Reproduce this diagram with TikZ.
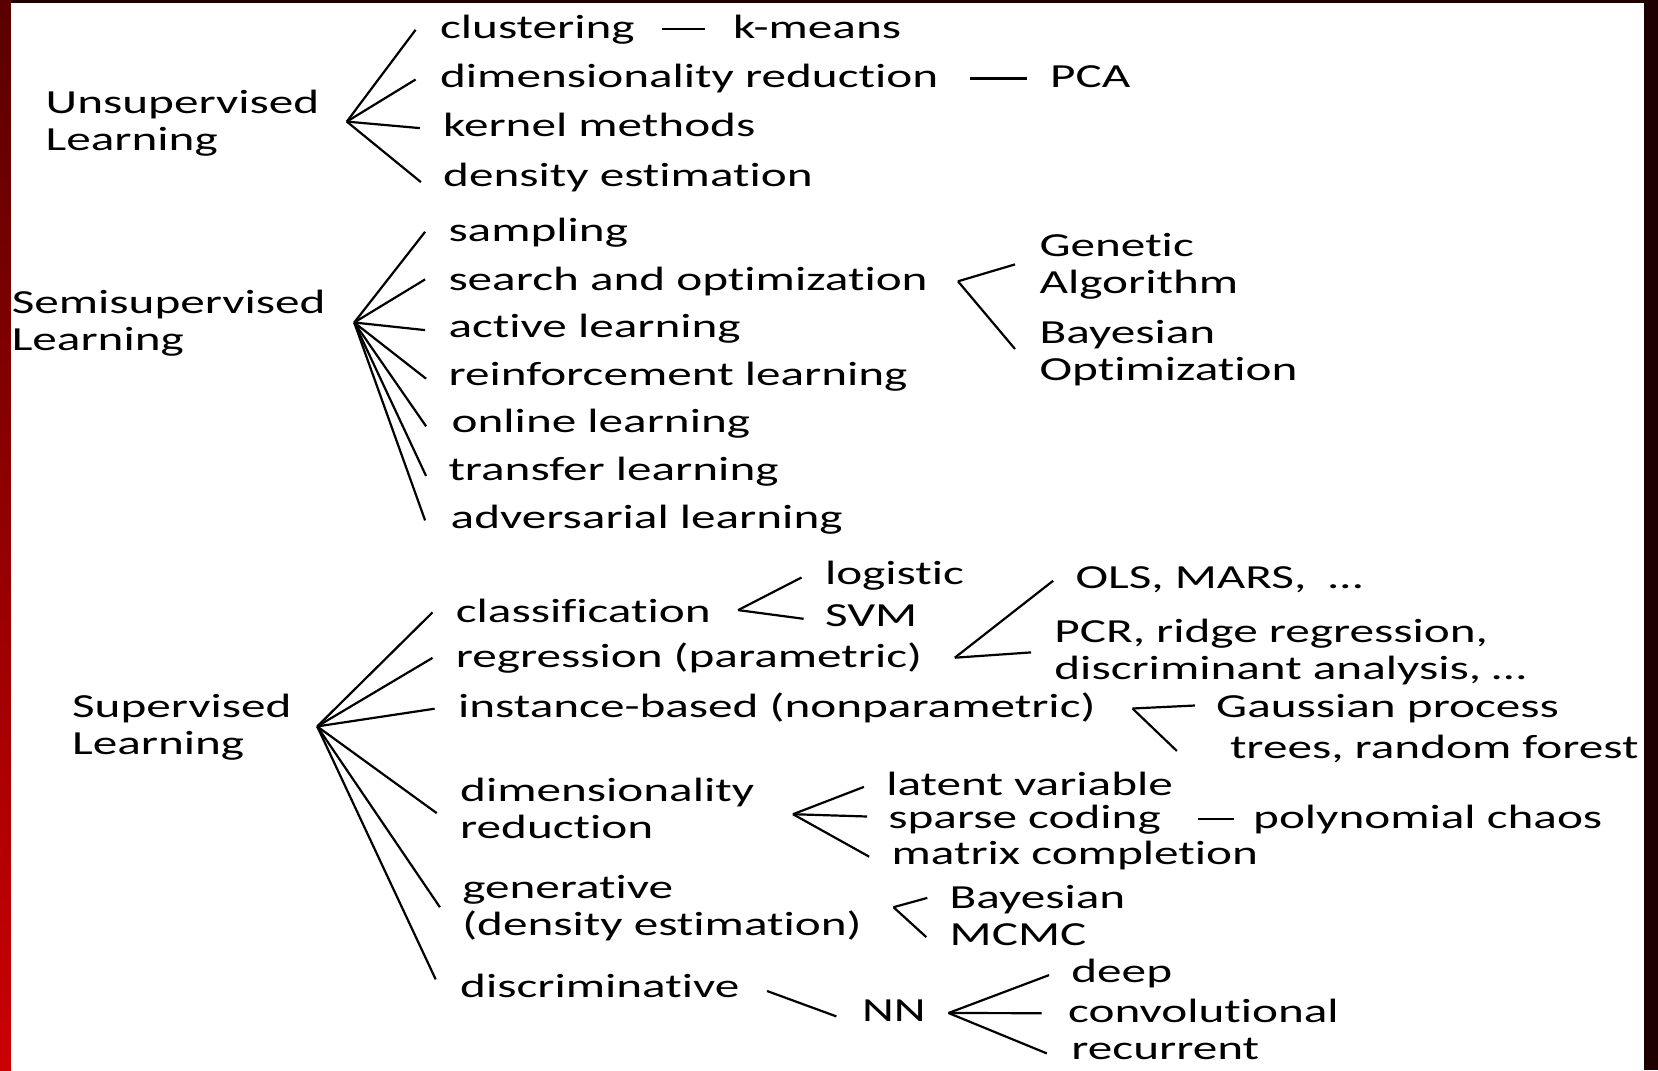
\documentclass[tikz,border=0pt]{standalone}
\usepackage{fontspec}
\setmainfont{Carlito}[FakeStretch=1.46,Ligatures={NoCommon,NoRare}]
\newcommand\lblsz{\fontsize{33.7bp}{37bp}\selectfont}
\begin{document}
\begin{tikzpicture}[x=1bp,y=-1bp,
  lbl/.style={anchor=base west, inner sep=0pt, font=\lblsz, text height=25bp, text depth=1.4bp},
  mlbl/.style={anchor=base west, inner sep=0pt, font=\lblsz},
  ln/.style={line width=2.2bp, black}]
\useasboundingbox (0,0) rectangle (1658,1070);
% background frame
\fill[red!12!black] (0,0) rectangle (1658,1070);
\shade[top color=red!35!black, middle color=red!65!black, bottom color=red!80!black] (0,0) rectangle (11,1070);
\fill[white] (11,3) rectangle (1644,1070);

% ---------- Unsupervised ----------
\node[mlbl] (ul) at (45.5,113.5) {\begin{tabular}[t]{@{}l@{}}Unsupervised\\Learning\end{tabular}};
\coordinate (ur) at (346.8,121.6);
\node[lbl] (clus) at (439.9,38.4) {clustering};
\node[lbl] (kmeans) at (732.8,38.4) {k-means};
\node[lbl] (dimr) at (439.9,87.1) {dimensionality reduction};
\node[lbl] (pca) at (1050,87.1) {PCA};
\node[lbl] (kern) at (443,136.8) {kernel methods};
\node[lbl] (dens) at (443,186.5) {density estimation};
\draw[ln] (ur) -- ([shift={(-24.3,3.2)}]clus.west);
\draw[ln] (ur) -- ([shift={(-24.3,4.2)}]dimr.west);
\draw[ln] (ur) -- ([shift={(-23.2,3.1)}]kern.west);
\draw[ln] (ur) -- ([shift={(-22.1,7.4)}]dens.west);
\draw[ln] ([shift={(27.5,2.1)}]clus.east) -- ([shift={(-27.5,2.1)}]kmeans.west);
\draw[ln] ([shift={(31.7,3.1)}]dimr.east) -- ([shift={(-23.3,3.1)}]pca.west);

% ---------- Semisupervised ----------
\node[mlbl] (sl) at (11.6,313.4) {\begin{tabular}[t]{@{}l@{}}Semisupervised\\Learning\end{tabular}};
\coordinate (sr) at (354.2,322.5);
\node[lbl] (samp) at (448.3,241.5) {sampling};
\node[lbl] (search) at (448.3,290.1) {search and optimization};
\node[lbl] (active) at (448.3,337.7) {active learning};
\node[lbl] (reinf) at (448.3,385.3) {reinforcement learning};
\node[lbl] (online) at (451.5,432.8) {online learning};
\node[lbl] (transf) at (448.3,480.4) {transfer learning};
\node[lbl] (advers) at (450.5,528) {adversarial learning};
\draw[ln] (sr) -- ([shift={(-23.2,2.1)}]samp.west);
\draw[ln] (sr) -- ([shift={(-23.2,1.1)}]search.west);
\draw[ln] (sr) -- ([shift={(-23.2,4.2)}]active.west);
\draw[ln] (sr) -- ([shift={(-22.2,5.2)}]reinf.west);
\draw[ln] (sr) -- ([shift={(-25.4,5.3)}]online.west);
\draw[ln] (sr) -- ([shift={(-22.2,7.4)}]transf.west);
\draw[ln] (sr) -- ([shift={(-25.4,4.2)}]advers.west);
\coordinate (sor) at (958,281.3);
\node[mlbl] (ga) at (1039.4,256.3) {\begin{tabular}[t]{@{}l@{}}Genetic\\Algorithm\end{tabular}};
\node[mlbl] (bo) at (1039.4,343) {\begin{tabular}[t]{@{}l@{}}Bayesian\\Optimization\end{tabular}};
\draw[ln] (sor) -- ([shift={(-24.4,8.1)}]ga.base west);
\draw[ln] (sor) -- ([shift={(-24.4,6)}]bo.base west);

% ---------- Supervised ----------
\node[mlbl] (spl) at (71.9,717.3) {\begin{tabular}[t]{@{}l@{}}Supervised\\Learning\end{tabular}};
\coordinate (spr) at (317.2,726.4);
\node[lbl] (cls) at (455.7,622.1) {classification};
\node[lbl] (reg) at (455.7,667.6) {regression (parametric)};
\node[lbl] (inst) at (457.9,717.3) {instance-based (nonparametric)};
\node[mlbl] (dim2) at (460,801.9) {\begin{tabular}[t]{@{}l@{}}dimensionality\\reduction\end{tabular}};
\node[mlbl] (gen) at (462.1,898.1) {\begin{tabular}[t]{@{}l@{}}generative\\(density estimation)\end{tabular}};
\node[lbl] (disc) at (460,997.5) {discriminative};
\draw[ln] (spr) -- ([shift={(-23.2,2.1)}]cls.west);
\draw[ln] (spr) -- ([shift={(-23.2,2.1)}]reg.west);
\draw[ln] (spr) -- ([shift={(-23.3,3.2)}]inst.west);
\draw[ln] (spr) -- ([shift={(-23.3,11.2)}]dim2.base west);
\draw[ln] (spr) -- ([shift={(-22.2,9.1)}]gen.base west);
\draw[ln] (spr) -- ([shift={(-24.3,-6.3)}]disc.west);

% classification
\coordinate (clr) at (738.1,610.1);
\node[lbl] (logi) at (824.8,584) {logistic};
\node[lbl] (svm) at (824.8,626.3) {SVM};
\draw[ln] (clr) -- ([shift={(-23.3,5.3)}]logi.west);
\draw[ln] (clr) -- ([shift={(-21.2,4.3)}]svm.west);

% regression
\coordinate (rgr) at (954.8,657.7);
\node[lbl] (ols) at (1075.4,588.3) {OLS, MARS,\ \ …};
\node[mlbl] (pcr) at (1054.2,642.2) {\begin{tabular}[t]{@{}l@{}}PCR, ridge regression,\\discriminant analysis, …\end{tabular}};
\draw[ln] (rgr) -- ([shift={(-22.2,4.2)}]ols.west);
\draw[ln] (rgr) -- ([shift={(-23.2,10.2)}]pcr.base west);

% instance-based
\coordinate (inr) at (1132.5,708.5);
\node[lbl] (gp) at (1216,717.3) {Gaussian process};
\node[lbl] (trees) at (1229.8,758.5) {trees, random forest};
\draw[ln] (inr) -- ([shift={(-21.1,0)}]gp.west);
\draw[ln] (inr) -- ([shift={(-52.9,4.3)}]trees.west);

% dimensionality reduction
\coordinate (dmr) at (793,814.2);
\node[lbl] (latent) at (886.1,795.5) {latent variable};
\node[lbl] (sparse) at (888.2,828.3) {sparse coding};
\node[lbl] (matrix) at (891.4,864.3) {matrix completion};
\node[lbl] (poly) at (1253,828.3) {polynomial chaos};
\draw[ln] (dmr) -- ([shift={(-22.2,3.2)}]latent.west);
\draw[ln] (dmr) -- ([shift={(-21.1,0)}]sparse.west);
\draw[ln] (dmr) -- ([shift={(-22.2,4.2)}]matrix.west);
\draw[ln] ([shift={(37,2.1)}]sparse.east) -- ([shift={(-19,2.1)}]poly.west);

% generative
\coordinate (gnr) at (893.5,907.2);
\node[lbl] (bayes) at (949.5,908.7) {Bayesian};
\node[lbl] (mcmc) at (949.5,945.7) {MCMC};
\draw[ln] (gnr) -- ([shift={(-22.2,1)}]bayes.west);
\draw[ln] (gnr) -- ([shift={(-23.2,3.2)}]mcmc.west);

% discriminative
\node[lbl] (nn) at (861.8,1021.8) {NN};
\draw[ln] ([shift={(27.5,5.3)}]disc.east) -- ([shift={(-25.4,6.4)}]nn.west);
\coordinate (nnr) at (948.5,1013);
\node[lbl] (deep) at (1071.2,982.7) {deep};
\node[lbl] (conv) at (1068,1022.9) {convolutional};
\node[lbl] (rec) at (1071.2,1059.9) {recurrent};
\draw[ln] (nnr) -- ([shift={(-22.2,4.2)}]deep.west);
\draw[ln] (nnr) -- ([shift={(-26.5,2.1)}]conv.west);
\draw[ln] (nnr) -- ([shift={(-24.4,5.3)}]rec.west);
\end{tikzpicture}
\end{document}
